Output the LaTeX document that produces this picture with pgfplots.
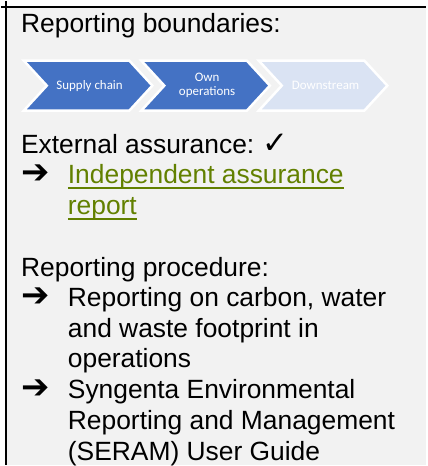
\documentclass[border=0pt]{standalone}
\usepackage{pgfplots}
\pgfplotsset{compat=1.18}
\usepackage{fontspec}
\setmainfont{Liberation Sans}
\newfontfamily\dejavu{DejaVu Sans}
\newfontfamily\carlito{Carlito}
\definecolor{bgGrey}{HTML}{F2F2F2}
\definecolor{chevBlue}{HTML}{4472C4}
\definecolor{chevLight}{HTML}{DAE3F3}
\definecolor{linkGreen}{RGB}{98,128,0}
\newcommand\ul[1]{\setbox0\hbox{#1}\rlap{\rule[-5.5bp]{\wd0}{2bp}}\box0}
\newcommand\arr{{\dejavu\fontsize{34bp}{36bp}\selectfont ➔}}
\newcommand\bigtxt{\fontsize{26.5bp}{30.8bp}\selectfont}
\tikzset{txt/.style={anchor=base west,inner sep=0pt,font=\bigtxt}}
\begin{document}
\begin{tikzpicture}
\begin{axis}[width=427bp,height=466bp,scale only axis,
  xmin=0,xmax=427,ymin=0,ymax=466,y dir=reverse,
  hide axis,clip=false,no markers]
% page background
\addplot[fill=white,draw=none] coordinates {(0,0)(427,0)(427,466)(0,466)} -- cycle;
% grey cell
\addplot[fill=bgGrey,draw=none] coordinates {(5,6.3)(427,6.3)(427,466)(5,466)} -- cycle;
% cell borders
\addplot[black,line width=2bp] coordinates {(0,6.3)(427,6.3)};
\addplot[black,line width=2bp] coordinates {(5,0)(5,466)};
% chevrons
\addplot[fill=chevBlue,draw=white,line width=2.5bp] coordinates {(23,60)(129,60)(152,85)(129,110)(23,110)(46,85)} -- cycle;
\addplot[fill=chevBlue,draw=white,line width=2.5bp] coordinates {(141,60)(247,60)(270,85)(247,110)(141,110)(164,85)} -- cycle;
\addplot[fill=chevLight,draw=white,line width=2.5bp] coordinates {(259,60)(365,60)(388,85)(365,110)(259,110)(282,85)} -- cycle;
\node[text=white,align=center,font=\carlito\fontsize{13bp}{14bp}\selectfont] at (axis cs:89,85) {Supply chain};
\node[text=white,align=center,font=\carlito\fontsize{13bp}{14bp}\selectfont] at (axis cs:207,85) {Own\\operations};
\node[text=white,align=center,font=\carlito\fontsize{13bp}{14bp}\selectfont] at (axis cs:326,85) {Downstream};
% texts
\node[txt] at (axis cs:20,32) {Reporting boundaries:};
\node[txt] at (axis cs:20,153) {External assurance:};
\node[txt] at (axis cs:262,153) {\dejavu\fontsize{31bp}{34bp}\selectfont ✓};
\node[txt] at (axis cs:20,183) {\arr};
\node[txt,text=linkGreen] at (axis cs:67,183) {\ul{Independent assurance}};
\node[txt,text=linkGreen] at (axis cs:67,214) {\ul{report}};
\node[txt] at (axis cs:20,276.5) {Reporting procedure:};
\node[txt] at (axis cs:20,307) {\arr};
\node[txt] at (axis cs:67,307) {Reporting on carbon, water};
\node[txt] at (axis cs:67,337.5) {and waste footprint in};
\node[txt] at (axis cs:67,368.5) {operations};
\node[txt] at (axis cs:20,399.5) {\arr};
\node[txt] at (axis cs:67,399.5) {Syngenta Environmental};
\node[txt] at (axis cs:67,430) {Reporting and Management};
\node[txt] at (axis cs:67,461) {(SERAM) User Guide};
\end{axis}
\end{tikzpicture}
\end{document}
